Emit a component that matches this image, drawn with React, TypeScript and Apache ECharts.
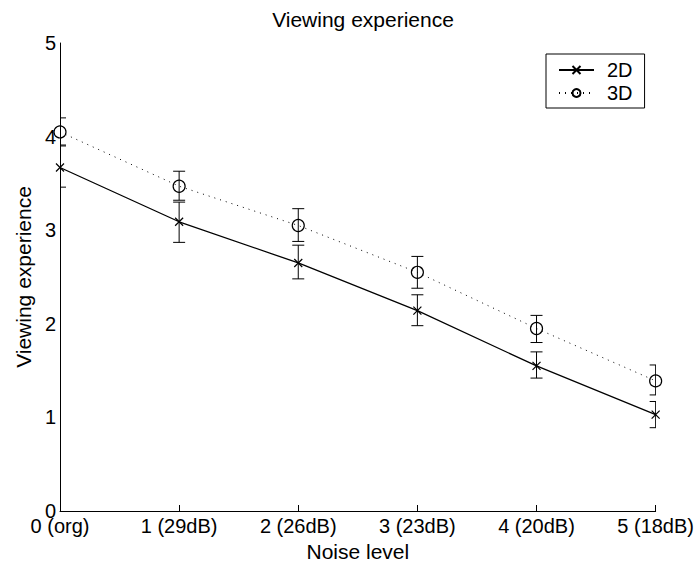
import React, { useEffect, useRef } from "react";
import * as echarts from "echarts";

const tickLabels = ["0 (org)", "1 (29dB)", "2 (26dB)", "3 (23dB)", "4 (20dB)", "5 (18dB)"];
const noiseLevels = [0, 1, 2, 3, 4, 5];
const mean2D = [3.67, 3.09, 2.65, 2.14, 1.55, 1.03];
const low2D = [3.46, 2.87, 2.48, 1.98, 1.42, 0.89];
const high2D = [3.9, 3.3, 2.84, 2.31, 1.7, 1.17];
const mean3D = [4.05, 3.47, 3.05, 2.55, 1.95, 1.39];
const low3D = [3.91, 3.32, 2.88, 2.38, 1.8, 1.24];
const high3D = [4.2, 3.63, 3.23, 2.72, 2.09, 1.56];

const FONT = "'Liberation Sans', Arial, Helvetica, sans-serif";
const X_SYMBOL = "path://M0,0L10,10M10,0L0,10";

function errorSeries(name: string, low: number[], high: number[]) {
  const data = noiseLevels.map((x, i) => [x, low[i], high[i]]);
  return {
    type: "custom",
    name,
    clip: true,
    silent: true,
    data,
    encode: { x: 0, y: [1, 2] },
    renderItem: (params: any, api: any) => {
      const x = api.value(0);
      const lo = api.coord([x, api.value(1)]);
      const hi = api.coord([x, api.value(2)]);
      const hw = 6;
      const style = { stroke: "#000", lineWidth: 1, fill: "none" };
      return {
        type: "group",
        children: [
          { type: "line", shape: { x1: lo[0], y1: lo[1], x2: hi[0], y2: hi[1] }, style },
          { type: "line", shape: { x1: lo[0] - hw, y1: lo[1], x2: lo[0] + hw, y2: lo[1] }, style },
          { type: "line", shape: { x1: hi[0] - hw, y1: hi[1], x2: hi[0] + hw, y2: hi[1] }, style },
        ],
      };
    },
    z: 1,
  };
}

export default function App() {
  const ref = useRef<HTMLDivElement>(null);
  useEffect(() => {
    if (!ref.current) return;
    const chart = echarts.init(ref.current, undefined, { renderer: "svg" });
    chart.setOption({
      animation: false,
      backgroundColor: "#fff",
      textStyle: { fontFamily: FONT, color: "#000" },
      title: {
        text: "Viewing experience",
        left: 358,
        textAlign: "center",
        top: 4,
        textStyle: { fontFamily: FONT, fontSize: 21, fontWeight: "normal", color: "#000" },
      },
      grid: { left: 60, right: 40, top: 43, bottom: 48 },
      legend: {
        orient: "vertical",
        left: 546,
        top: 54,
        padding: [6, 12, 5, 12],
        itemGap: 3,
        itemWidth: 35,
        itemHeight: 10,
        borderColor: "#000",
        borderWidth: 1,
        backgroundColor: "#fff",
        textStyle: { fontFamily: FONT, fontSize: 20, color: "#000", padding: [0, 0, 0, 8] },
        data: ["2D", "3D"],
      },
      xAxis: {
        type: "value",
        min: 0,
        max: 5,
        interval: 1,
        name: "Noise level",
        nameLocation: "middle",
        nameGap: 30,
        nameTextStyle: { fontFamily: FONT, fontSize: 21, color: "#000" },
        axisLine: { show: true, lineStyle: { color: "#000", width: 1 } },
        axisTick: { show: true, inside: true, length: 6, lineStyle: { color: "#000" } },
        splitLine: { show: false },
        axisLabel: {
          fontFamily: FONT,
          fontSize: 20,
          color: "#000",
          margin: 5,
          formatter: (v: number) => tickLabels[Math.round(v)] ?? "",
        },
      },
      yAxis: {
        type: "value",
        min: 0,
        max: 5,
        interval: 1,
        name: "Viewing experience",
        nameLocation: "middle",
        nameGap: 25,
        nameTextStyle: { fontFamily: FONT, fontSize: 21, color: "#000" },
        axisLine: { show: true, lineStyle: { color: "#000", width: 1 } },
        axisTick: { show: false },
        splitLine: { show: false },
        axisLabel: { fontFamily: FONT, fontSize: 20, color: "#000", margin: 4 },
      },
      series: [
        errorSeries("err2D", low2D, high2D),
        errorSeries("err3D", low3D, high3D),
        {
          type: "line",
          name: "2D",
          data: noiseLevels.map((x, i) => [x, mean2D[i]]),
          symbol: X_SYMBOL,
          symbolSize: 8,
          showSymbol: true,
          lineStyle: { color: "#000", width: 1.3, type: "solid" },
          itemStyle: { color: "#000", borderColor: "#000", borderWidth: 1.2 },
          z: 3,
        },
        {
          type: "line",
          name: "3D",
          data: noiseLevels.map((x, i) => [x, mean3D[i]]),
          symbol: "circle",
          symbolSize: 12,
          showSymbol: true,
          lineStyle: { color: "#000", width: 1, type: [1, 5] },
          itemStyle: { color: "rgba(0,0,0,0)", borderColor: "#000", borderWidth: 1.2 },
          z: 3,
        },
      ],
    });
    return () => chart.dispose();
  }, []);
  return (
    <div
      ref={ref}
      style={{ position: "fixed", left: 0, top: 0, width: 697, height: 567 }}
    />
  );
}
